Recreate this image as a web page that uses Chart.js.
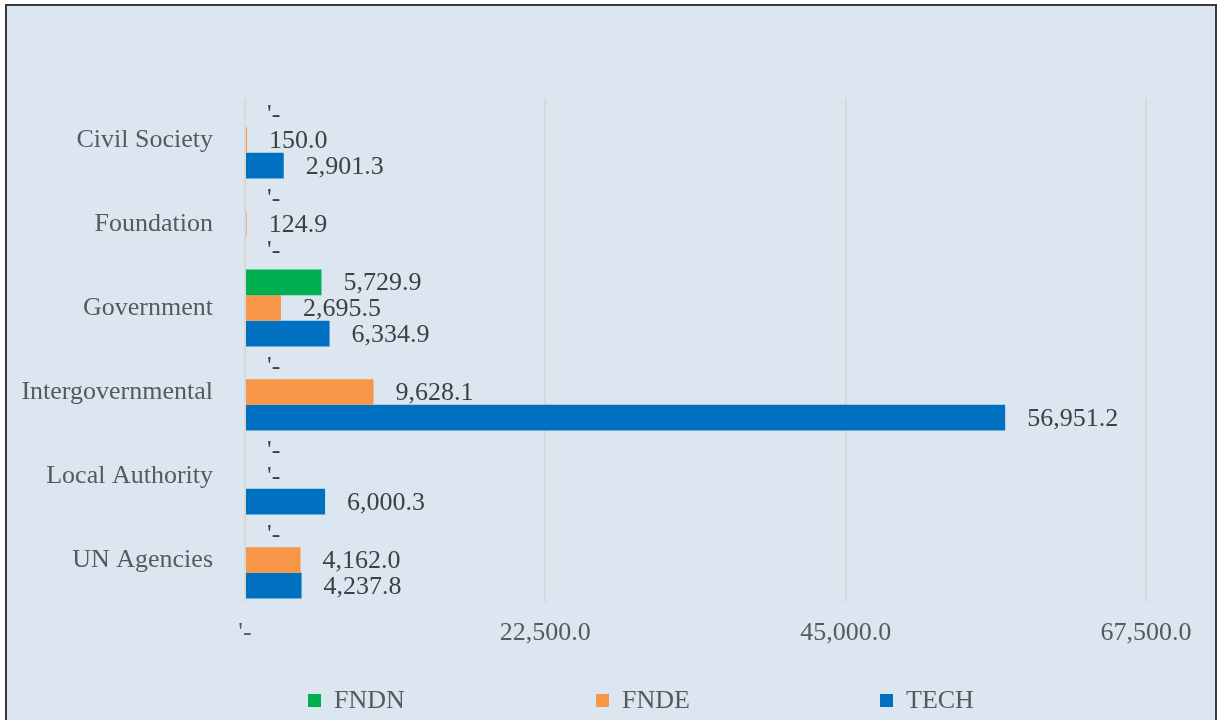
<!DOCTYPE html>
<html><head><meta charset="utf-8">
<script src="https://cdn.jsdelivr.net/npm/chart.js@4.4.1/dist/chart.umd.min.js"></script>
<style>
html,body{margin:0;padding:0;background:#fff;width:1223px;height:720px;overflow:hidden;}
#frame{position:absolute;left:5px;top:4px;width:1212px;height:760px;background:#dce6f1;border:2px solid #3a3a3a;box-sizing:border-box;}
#c{position:absolute;left:0;top:0;}
.leg{position:absolute;top:685px;height:30px;display:flex;align-items:center;font:26px "Liberation Serif","Times New Roman",serif;color:#595959;line-height:30px;white-space:nowrap;}
.leg i{display:inline-block;width:13px;height:13px;margin-right:13px;}
</style></head>
<body>
<div id="frame"></div>
<canvas id="c" width="1223" height="720"></canvas>
<div id="legend"></div>
<script>
const categories = ["Civil Society","Foundation","Government","Intergovernmental","Local Authority","UN Agencies"];
const seriesNames = ["FNDN","FNDE","TECH"];
const fndn = [0, 0, 5729.9, 0, 0, 0];
const fnde = [150.0, 124.9, 2695.5, 9628.1, 0, 4162.0];
const tech = [2901.3, 0, 6334.9, 56951.2, 6000.3, 4237.8];
const colors = ["#00b050","#f79646","#0070c0"];
const xTicks = [0, 22500, 45000, 67500];

const FONT = '"Liberation Serif","Times New Roman",serif';
function fmt(v){
  if (!v) return "'-";
  return v.toLocaleString('en-US',{minimumFractionDigits:1,maximumFractionDigits:1});
}

const valueLabels = {
  id:'valueLabels',
  afterDatasetsDraw(chart){
    const ctx = chart.ctx;
    ctx.save();
    ctx.font = '26px ' + FONT;
    ctx.fillStyle = '#404040';
    ctx.textAlign = 'left';
    ctx.textBaseline = 'middle';
    chart.data.datasets.forEach((ds,i)=>{
      const meta = chart.getDatasetMeta(i);
      meta.data.forEach((el,j)=>{
        ctx.fillText(fmt(ds.data[j]), el.x + 22, el.y + 1);
      });
    });
    ctx.restore();
  }
};

const allSeries = [fndn, fnde, tech];
new Chart(document.getElementById('c'), {
  type:'bar',
  data:{
    labels: categories,
    datasets: seriesNames.map((n,i)=>({
      label:n, data:allSeries[i], backgroundColor:colors[i], borderWidth:0,
      barPercentage:1, categoryPercentage:0.917
    }))
  },
  options:{
    indexAxis:'y',
    responsive:false,
    animation:false,
    layout:{padding:{top:98,right:77,left:0,bottom:0}},
    plugins:{legend:{display:false},tooltip:{enabled:false}},
    scales:{
      x:{
        min:0,max:67500,
        afterBuildTicks(scale){ scale.ticks = xTicks.map(v=>({value:v})); },
        afterFit(scale){ scale.height = 118; },
        grid:{color:'#d9d9d9',lineWidth:2,drawTicks:false},
        border:{display:false},
        ticks:{padding:16,color:'#595959',font:{family:FONT,size:26},callback:(v)=>fmt(v),maxRotation:0,autoSkip:false}
      },
      y:{
        afterFit(scale){ scale.width = 245; },
        grid:{display:false},
        border:{display:false},
        ticks:{padding:24,color:'#595959',font:{family:FONT,size:26}}
      }
    }
  },
  plugins:[valueLabels]
});

const legendX = [308, 596, 880];
const lg = document.getElementById('legend');
seriesNames.forEach((n,i)=>{
  const d = document.createElement('div');
  d.className='leg';
  d.style.left = legendX[i]+'px';
  const sq = document.createElement('i');
  sq.style.background = colors[i];
  d.appendChild(sq);
  d.appendChild(document.createTextNode(n));
  lg.appendChild(d);
});
</script>
</body></html>
